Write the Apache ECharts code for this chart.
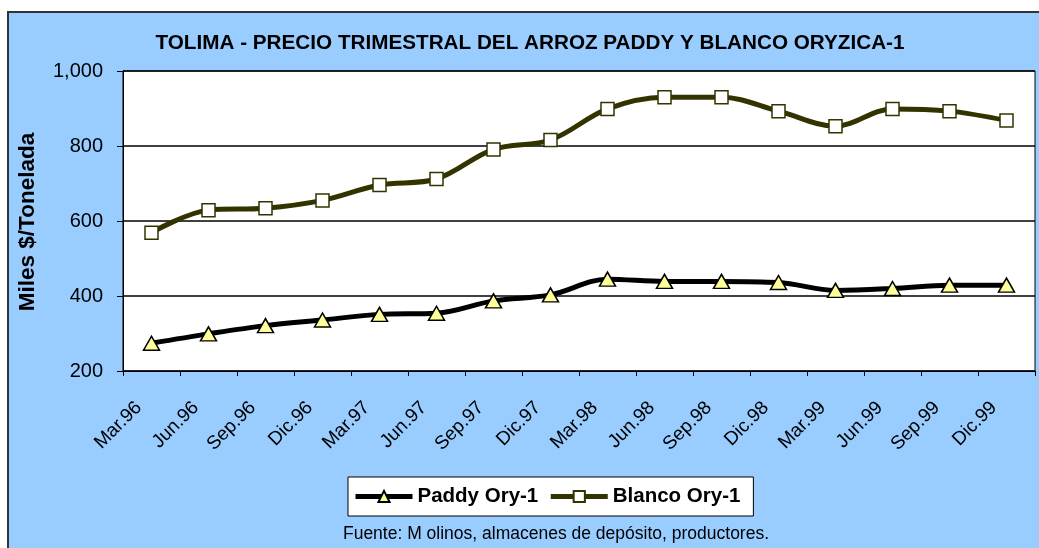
<!DOCTYPE html>
<html>
<head>
<meta charset="utf-8">
<title>Tolima - precio trimestral arroz</title>
<script src="https://cdn.jsdelivr.net/npm/echarts@6/dist/echarts.min.js"></script>
<style>
  html, body { margin: 0; padding: 0; background: #fff; }
  #chart { width: 1039px; height: 548px; }
</style>
</head>
<body>
<div id="chart"></div>
<script>
// trimestres
const quarters = ['Mar.96', 'Jun.96', 'Sep.96', 'Dic.96', 'Mar.97', 'Jun.97', 'Sep.97', 'Dic.97',
  'Mar.98', 'Jun.98', 'Sep.98', 'Dic.98', 'Mar.99', 'Jun.99', 'Sep.99', 'Dic.99']
// miles $/tonelada
const paddy = [274, 299, 321, 336, 351, 354, 387, 403, 445, 439, 439, 436, 415, 420, 429, 429]
const blanco = [569, 629, 634, 655, 696, 712, 791, 816, 899, 930, 930, 893, 853, 899, 893, 868]
const yTicks = [200, 400, 600, 800, 1000]

const FONT = '"Liberation Sans", Arial, sans-serif'
const chart = echarts.init(document.getElementById('chart'))

const option = {
  backgroundColor: '#ffffff',
  animation: false,
  textStyle: { fontFamily: FONT },
  graphic: [
    {
      type: 'rect',
      z: -10,
      shape: { x: 8, y: 12, width: 1040, height: 545 },
      style: { fill: '#99ccff', stroke: '#333333', lineWidth: 2 }
    },
    {
      type: 'text',
      x: 530, y: 43,
      style: {
        text: 'TOLIMA - PRECIO TRIMESTRAL DEL ARROZ PADDY Y BLANCO ORYZICA-1',
        font: 'bold 20.7px ' + FONT,
        fill: '#000',
        align: 'center',
        verticalAlign: 'middle'
      }
    },
    {
      type: 'text',
      x: 28, y: 222,
      rotation: Math.PI / 2,
      style: {
        text: 'Miles $/Tonelada',
        font: 'bold 22.5px ' + FONT,
        fill: '#000',
        align: 'center',
        verticalAlign: 'middle'
      }
    },
    {
      type: 'text',
      x: 556, y: 534,
      style: {
        text: 'Fuente: M olinos, almacenes de depósito, productores.',
        font: '17.5px ' + FONT,
        fill: '#000',
        align: 'center',
        verticalAlign: 'middle'
      }
    }
  ],
  grid: {
    left: 123, top: 71, width: 912, height: 300,
    show: true,
    backgroundColor: '#ffffff',
    borderColor: '#000',
    borderWidth: 1
  },
  legend: {
    left: 348, top: 477,
    padding: [9, 13, 9, 5],
    itemWidth: 57,
    itemHeight: 14,
    itemGap: 10,
    backgroundColor: '#ffffff',
    borderColor: '#000',
    borderWidth: 1,
    lineStyle: { width: 5 },
    textStyle: { fontSize: 20.5, fontWeight: 'bold', color: '#000', fontFamily: FONT },
    data: ['Paddy Ory-1', 'Blanco Ory-1']
  },
  xAxis: {
    type: 'category',
    data: quarters,
    boundaryGap: true,
    axisLine: { lineStyle: { color: '#000', width: 1 } },
    axisTick: { show: true, interval: 0, length: 5, lineStyle: { color: '#000' } },
    axisLabel: {
      interval: 0, rotate: 45, margin: 21, padding: [0, 18, 0, 0],
      fontSize: 19, color: '#000', fontFamily: FONT
    },
    splitLine: { show: false }
  },
  yAxis: {
    type: 'value',
    min: yTicks[0],
    max: yTicks[yTicks.length - 1],
    interval: 200,
    axisLine: { show: true, lineStyle: { color: '#000', width: 1 } },
    axisTick: { show: true, length: 6, lineStyle: { color: '#000' } },
    axisLabel: {
      margin: 20, fontSize: 20, color: '#000', fontFamily: FONT,
      formatter: v => v.toLocaleString('en-US')
    },
    splitLine: { lineStyle: { color: '#000', width: 1.5 } }
  },
  series: [
    {
      name: 'Paddy Ory-1',
      type: 'line',
      data: paddy,
      smooth: 0.35,
      symbol: 'triangle',
      symbolSize: [16, 14],
      lineStyle: { color: '#000000', width: 5 },
      itemStyle: { color: '#ffff99', borderColor: '#000000', borderWidth: 1.5 },
      z: 3
    },
    {
      name: 'Blanco Ory-1',
      type: 'line',
      data: blanco,
      smooth: 0.35,
      symbol: 'rect',
      symbolSize: 13,
      lineStyle: { color: '#333300', width: 5 },
      itemStyle: { color: '#ffffff', borderColor: '#333300', borderWidth: 1.5 },
      z: 3
    }
  ]
}

chart.setOption(option)
</script>
</body>
</html>
